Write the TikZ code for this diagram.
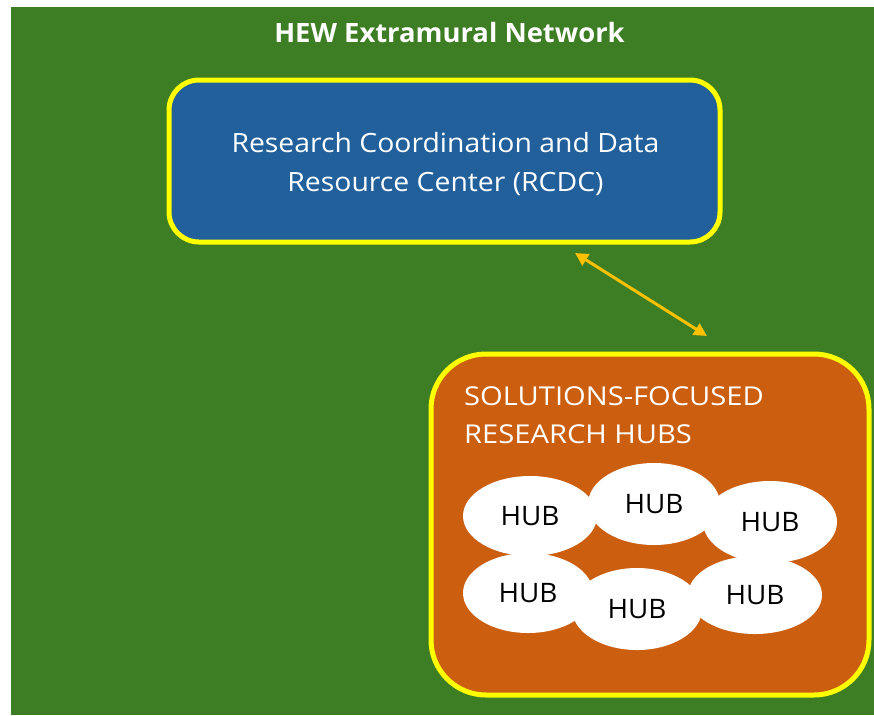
\documentclass[tikz,border=0pt]{standalone}
\usepackage{fontspec}
\setmainfont{Open Sans}
\newfontfamily\titlefont[FakeStretch=1.03]{Open Sans}
\newfontfamily\bluefont[FakeStretch=1.07]{Open Sans}
\newfontfamily\orangefont[FakeStretch=1.12]{Open Sans}
\newfontfamily\hubfont[FakeStretch=1.04]{Open Sans}
\usetikzlibrary{arrows.meta,shapes.geometric}
\definecolor{bggreen}{RGB}{61,125,35}
\definecolor{boxblue}{RGB}{34,96,156}
\definecolor{boxorange}{RGB}{204,94,16}
\definecolor{hlyellow}{RGB}{255,255,0}
\definecolor{arrowgold}{RGB}{255,192,0}
\tikzset{
  panel/.style={draw=hlyellow, line width=5pt, inner sep=0pt},
  hub/.style={ellipse, fill=white, inner sep=0pt, font=\hubfont\fontsize{26.8}{30}\selectfont, text=black},
  link/.style={draw=arrowgold, line width=3pt, {Triangle[length=13pt,width=13pt]}-{Triangle[length=13pt,width=13pt]}},
}
\begin{document}
\begin{tikzpicture}[x=1pt,y=-1pt]
\useasboundingbox (0,0) rectangle (874,715);
\fill[white] (0,0) rectangle (874,715);
\fill[bggreen] (11,7) rectangle (874,715);
\node[font=\titlefont\bfseries\fontsize{26.6}{30}\selectfont, text=white, anchor=north, inner sep=0pt] (title) at (449.5,22) {HEW Extramural Network};
\node[panel, fill=boxblue, rounded corners=30pt, minimum width=551pt, minimum height=162pt] (rcdc) at (444.5,161) {};
\node[text=white, align=center, anchor=north, inner sep=0pt, font=\bluefont\fontsize{26.5}{39}\selectfont] (rcdctext) at (445.5,132) {Research Coordination and Data\\Resource Center (RCDC)};
\node[panel, fill=boxorange, rounded corners=55pt, minimum width=438pt, minimum height=341pt] (hubs) at (650,524.5) {};
\node[text=white, align=left, anchor=north west, inner sep=0pt, font=\orangefont\fontsize{26}{38}\selectfont] (hubstext) at (464,386) {SOLUTIONS-FOCUSED\\RESEARCH HUBS};
\node[hub, minimum width=134pt, minimum height=80pt] (h1) at (530,516) {HUB};
\node[hub, minimum width=132pt, minimum height=82pt] (h2) at (654,504) {HUB};
\node[hub, minimum width=134pt, minimum height=82pt] (h3) at (770,522) {HUB};
\node[hub, minimum width=130pt, minimum height=80pt] (h4) at (528,593) {HUB};
\node[hub, minimum width=130pt, minimum height=82pt] (h5) at (637,609) {HUB};
\node[hub, minimum width=134pt, minimum height=78pt] (h6) at (755,595) {HUB};
\coordinate (a1) at (575,253);
\coordinate (a2) at (707,336);
\draw[link] (a1) -- (a2);
\end{tikzpicture}
\end{document}
